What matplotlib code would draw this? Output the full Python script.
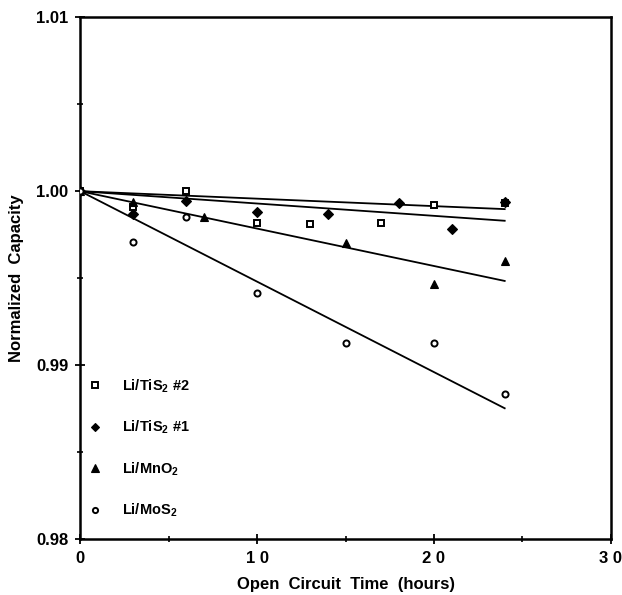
import matplotlib
matplotlib.use('Agg')
import matplotlib.pyplot as plt
from matplotlib.ticker import MultipleLocator, FixedLocator, FixedFormatter

plt.rcParams['font.family'] = ['Liberation Sans', 'DejaVu Sans']
plt.rcParams['font.weight'] = 'bold'
plt.rcParams['mathtext.fontset'] = 'custom'
plt.rcParams['mathtext.rm'] = 'Liberation Sans:bold'
plt.rcParams['mathtext.bf'] = 'Liberation Sans:bold'
plt.rcParams['mathtext.default'] = 'bf'

# Datos
time_tis2_2 = [0, 3, 6, 10, 13, 17, 20, 24]
cap_tis2_2 = [1.0, 0.9991, 1.0000, 0.9982, 0.9981, 0.9982, 0.9992, 0.9993]

time_tis2_1 = [0, 3, 6, 10, 14, 18, 21, 24]
cap_tis2_1 = [1.0, 0.9987, 0.99945, 0.9988, 0.9987, 0.9993, 0.9978, 0.99935]

time_mno2 = [0, 3, 7, 15, 20, 24]
cap_mno2 = [1.0, 0.99935, 0.9985, 0.9970, 0.99465, 0.9960]

time_mos2 = [0, 3, 6, 10, 15, 20, 24]
cap_mos2 = [1.0, 0.9971, 0.9985, 0.99415, 0.99126, 0.99126, 0.98836]

# Retas ajustadas (início e fim)
fit_time = [0, 24]
fit_tis2_2 = [1.0, 0.99897]
fit_tis2_1 = [1.0, 0.99830]
fit_mno2 = [1.0, 0.99484]
fit_mos2 = [1.0, 0.98752]

labels = ['Li/TiS$_2$ #2', 'Li/TiS$_2$ #1', 'Li/MnO$_2$', 'Li/MoS$_2$']
x_ticks = [0, 10, 20, 30]
x_tick_labels = ['0', '1 0', '2 0', '3 0']
y_ticks = [0.98, 0.99, 1.00, 1.01]
y_tick_labels = ['0.98', '0.99', '1.00', '1.01']

fig = plt.figure(figsize=(6.22, 5.95), dpi=100)
ax = fig.add_axes([0.129, 0.094, 0.853, 0.877])

for fy in [fit_tis2_2, fit_tis2_1, fit_mno2, fit_mos2]:
    ax.plot(fit_time, fy, color='black', lw=1.3, zorder=2)

ax.plot(time_tis2_2, cap_tis2_2, ls='none', marker='s', ms=4.5,
        mfc='white', mec='black', mew=1.4, label=labels[0], zorder=3)
ax.plot(time_tis2_1, cap_tis2_1, ls='none', marker='D', ms=4.6,
        mfc='black', mec='black', mew=0.8, label=labels[1], zorder=3)
ax.plot(time_mno2, cap_mno2, ls='none', marker='^', ms=6,
        mfc='black', mec='black', mew=0.8, label=labels[2], zorder=3)
ax.plot(time_mos2, cap_mos2, ls='none', marker='o', ms=4.4,
        mfc='white', mec='black', mew=1.4, label=labels[3], zorder=3)

ax.set_xlim(0, 30)
ax.set_ylim(0.98, 1.01)

ax.xaxis.set_major_locator(FixedLocator(x_ticks))
ax.xaxis.set_major_formatter(FixedFormatter(x_tick_labels))
ax.xaxis.set_minor_locator(MultipleLocator(5))
ax.yaxis.set_major_locator(FixedLocator(y_ticks))
ax.yaxis.set_major_formatter(FixedFormatter(y_tick_labels))
ax.yaxis.set_minor_locator(MultipleLocator(0.005))

ax.tick_params(which='major', direction='inout', length=7, width=1.3,
               labelsize=12, pad=5)
ax.tick_params(which='minor', direction='inout', length=5, width=1.2)
for s in ax.spines.values():
    s.set_linewidth(1.8)

ax.set_xlabel('Open  Circuit  Time  (hours)', fontsize=12, fontweight='bold',
              labelpad=8)
ax.set_ylabel('Normalized  Capacity', fontsize=12, fontweight='bold',
              labelpad=9)

leg = ax.legend(loc='upper left', bbox_to_anchor=(0.012, 0.31),
                frameon=False, fontsize=10.5, handlelength=1.2,
                handletextpad=1.2, labelspacing=1.65, borderpad=0,
                borderaxespad=0, numpoints=1, markerscale=0.85)

fig.savefig('out.png', dpi=100)
